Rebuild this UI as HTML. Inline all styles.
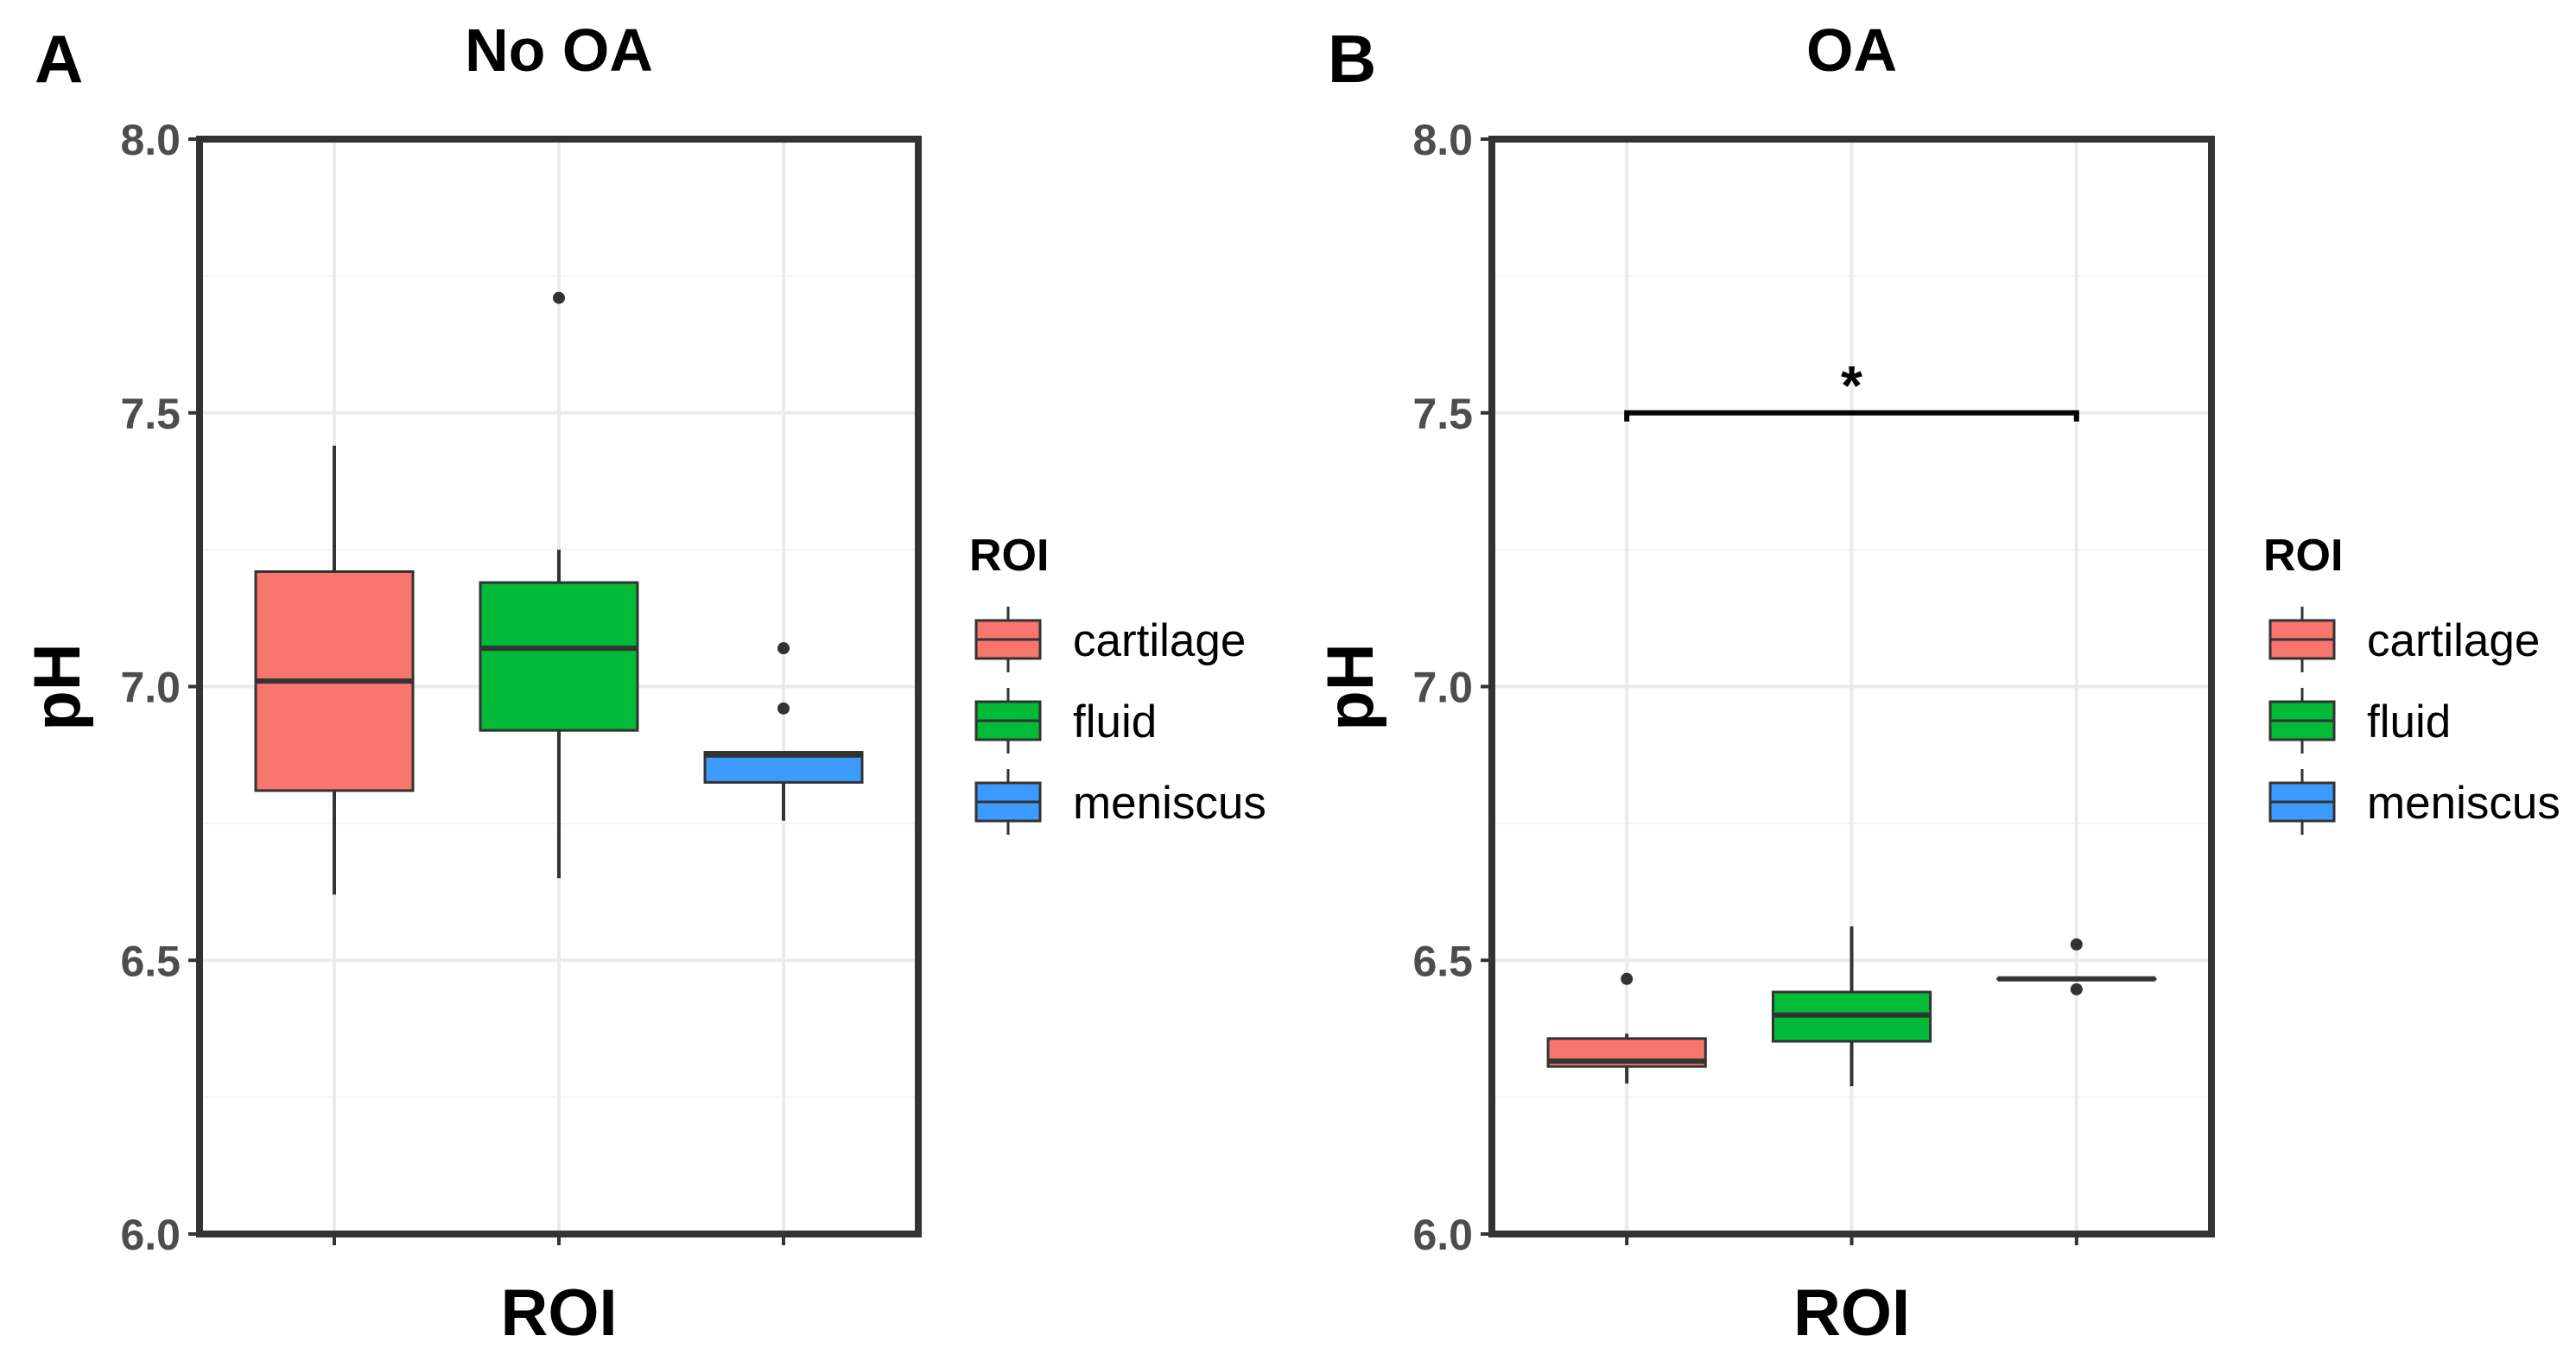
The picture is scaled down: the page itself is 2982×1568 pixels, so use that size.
<!DOCTYPE html>
<html><head><meta charset="utf-8"><style>
html,body{margin:0;padding:0;background:#fff;}
svg{display:block;font-family:"Liberation Sans",Arial,sans-serif;}
</style></head><body>
<svg id="chart" width="2982" height="1568" viewBox="0 0 2982 1568" xmlns="http://www.w3.org/2000/svg"></svg>
<script>
const categories = ["cartilage","fluid","meniscus"];
const colors = ["#F8766D","#00BA38","#3D9BFF"];
// panel A (No OA): [lowerWhisker, Q1, median, Q3, upperWhisker]
const statsA = [[6.62,6.81,7.01,7.21,7.44],[6.65,6.92,7.07,7.19,7.25],[6.755,6.825,6.875,6.88,6.88]];
const outliersA = [[],[7.71],[7.07,6.96]];
// panel B (OA)
const statsB = [[6.275,6.306,6.316,6.357,6.366],[6.27,6.352,6.40,6.442,6.562],[6.466,6.466,6.466,6.466,6.466]];
const outliersB = [[6.466],[],[6.529,6.447]];
const yTicks = [6.0,6.5,7.0,7.5,8.0];
const yTickLabels = ["6.0","6.5","7.0","7.5","8.0"];
const yMinor = [6.25,6.75,7.25,7.75];
const sigB = {from:0,to:2,y:7.5,label:"*"};

const svg = document.getElementById('chart');
const NS = "http://www.w3.org/2000/svg";
function mk(tag, attrs, parent){const e=document.createElementNS(NS,tag);for(const k in attrs)e.setAttribute(k,attrs[k]);(parent||svg).appendChild(e);return e;}

function panel(opts){
  const L=opts.left,R=opts.right,T=161,B=1428;
  const yMin=6,yMax=8;
  const y=v=>B-(v-yMin)/(yMax-yMin)*(B-T);
  const unit=(R-L)/3.2;
  const x=i=>L+(i+0.6)*unit;
  const g=mk('g',{});
  
  
  yMinor.forEach(v=>{const l=mk('line',{x1:L,x2:R,y1:y(v),y2:y(v),stroke:'#f3f3f3','stroke-width':2},g);});
  yTicks.forEach(v=>{const l=mk('line',{x1:L,x2:R,y1:y(v),y2:y(v),stroke:'#ebebeb','stroke-width':4},g);});
  categories.forEach((c,i)=>{const l=mk('line',{x1:x(i),x2:x(i),y1:T,y2:B,stroke:'#ebebeb','stroke-width':4},g);});
  const bw=0.7*unit;
  opts.stats.forEach((s,i)=>{
    const bg=mk('g',{},g);
    
    
    mk('line',{x1:x(i),x2:x(i),y1:y(s[4]),y2:y(s[3]),stroke:'#333','stroke-width':4},bg);
    mk('line',{x1:x(i),x2:x(i),y1:y(s[1]),y2:y(s[0]),stroke:'#333','stroke-width':4},bg);
    mk('rect',{x:x(i)-bw/2,y:y(s[3]),width:bw,height:Math.max(y(s[1])-y(s[3]),0.1),fill:colors[i],stroke:'#333','stroke-width':3},bg);
    mk('line',{x1:x(i)-bw/2,x2:x(i)+bw/2,y1:y(s[2]),y2:y(s[2]),stroke:'#333','stroke-width':6},bg);
    opts.out[i].forEach(v=>{const c=mk('circle',{cx:x(i),cy:y(v),r:7,fill:'#333'},bg);});
  });
  if(opts.sig){
    const s=opts.sig;
    const p=mk('path',{d:`M${x(s.from)} ${y(s.y)+10}V${y(s.y)}H${x(s.to)}V${y(s.y)+10}`,fill:'none',stroke:'#000','stroke-width':6},g);
    
    const t=mk('text',{x:(x(s.from)+x(s.to))/2,y:y(s.y)-10,'text-anchor':'middle','font-size':64,'font-weight':'bold',fill:'#000'},g);
    t.textContent=s.label;
  }
  const fr=mk('rect',{x:L,y:T,width:R-L,height:B-T,fill:'none',stroke:'#333','stroke-width':8},g);
  
  yTicks.forEach((v,k)=>{
    mk('line',{x1:L-13,x2:L,y1:y(v),y2:y(v),stroke:'#333','stroke-width':4},g);
    const t=mk('text',{x:L-22,y:y(v)+18,'text-anchor':'end','font-size':50,'font-weight':'bold',fill:'#4d4d4d'},g);
    t.textContent=yTickLabels[k];
  });
  categories.forEach((c,i)=>{mk('line',{x1:x(i),x2:x(i),y1:B,y2:B+13,stroke:'#333','stroke-width':4},g);});
  let t=mk('text',{x:(L+R)/2,y:82,'text-anchor':'middle','font-size':70,'font-weight':'bold',fill:'#000'},g);
  t.textContent=opts.title;
  t=mk('text',{x:opts.letterX,y:95,'font-size':78,'font-weight':'bold',fill:'#000'},g);
  t.textContent=opts.letter;
  t=mk('text',{x:(L+R)/2,y:1545,'text-anchor':'middle','font-size':76,'font-weight':'bold',fill:'#000'},g);
  t.textContent='ROI';
  t=mk('text',{x:0,y:0,'text-anchor':'middle','font-size':76,'font-weight':'bold',fill:'#000',transform:`translate(${opts.letterX+52},795) rotate(-90)`},g);
  t.textContent='pH';
  const lx=opts.legendX;
  t=mk('text',{x:lx-8,y:660,'font-size':52,'font-weight':'bold',fill:'#000'},g);
  t.textContent='ROI';
  categories.forEach((c,i)=>{
    const cy=740+i*94;
    const eg=mk('g',{},g);
    
    
    mk('line',{x1:lx+37,x2:lx+37,y1:cy-38,y2:cy+38,stroke:'#333','stroke-width':3},eg);
    mk('rect',{x:lx,y:cy-22,width:74,height:44,fill:colors[i],stroke:'#333','stroke-width':3},eg);
    mk('line',{x1:lx,x2:lx+74,y1:cy,y2:cy,stroke:'#333','stroke-width':3},eg);
    const lt=mk('text',{x:lx+112,y:cy+19,'font-size':53,fill:'#000'},eg);
    lt.textContent=c;
  });
}
panel({name:'panel-a-no-oa',left:231,right:1063,stats:statsA,out:outliersA,title:'No OA',letter:'A',letterX:40,legendX:1130});
panel({name:'panel-b-oa',left:1727,right:2560,stats:statsB,out:outliersB,title:'OA',letter:'B',letterX:1537,legendX:2628,sig:sigB});
</script>
</body></html>
